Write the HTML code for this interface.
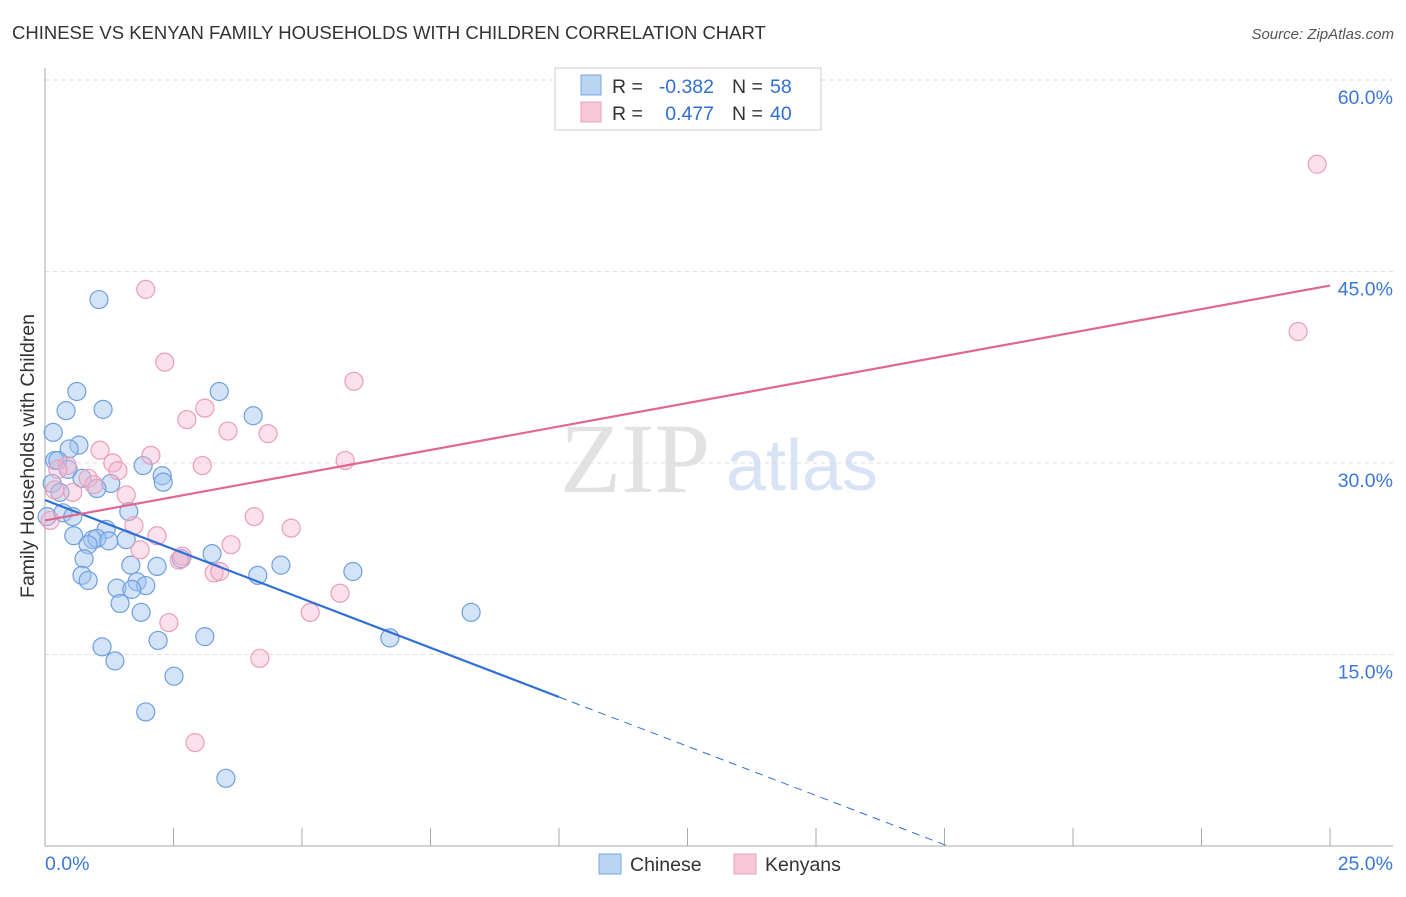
<!DOCTYPE html>
<html><head><meta charset="utf-8"><style>
body{margin:0;background:#fff;font-family:"Liberation Sans",sans-serif}
svg text{font-family:"Liberation Sans",sans-serif}
</style></head><body>
<svg width="1406" height="892" xmlns="http://www.w3.org/2000/svg">
<text x="12" y="39" font-size="18.5" fill="#333">CHINESE VS KENYAN FAMILY HOUSEHOLDS WITH CHILDREN CORRELATION CHART</text>
<text x="1394" y="39" font-size="15" fill="#555" text-anchor="end" font-style="italic">Source: ZipAtlas.com</text>
<text x="635" y="492" font-size="100" fill="#e2e2e2" style="font-family:'Liberation Serif',serif" text-anchor="middle">ZIP</text>
<text x="802" y="490" font-size="72" fill="#d8e4f5" text-anchor="middle">atlas</text>
<g id="grid"></g>
<g id="axes"></g>
<g id="marks"></g>
<text transform="translate(34,456) rotate(-90)" font-size="19.5" fill="#333" text-anchor="middle">Family Households with Children</text>
<g>
<rect x="555" y="68" width="266" height="62" fill="#fff" stroke="#ccc"/>
<rect x="581" y="75" width="20" height="20" fill="#bcd4f4" stroke="#7aa6e2"/>
<rect x="581" y="102" width="20" height="20" fill="#f9c8d8" stroke="#eca0ba"/>
<text x="612" y="93" font-size="19.5" fill="#333">R =</text>
<text x="714" y="93" font-size="19.5" fill="#2f6fd6" text-anchor="end">-0.382</text>
<text x="732" y="93" font-size="19.5" fill="#333">N =</text>
<text x="770" y="93" font-size="19.5" fill="#2f6fd6">58</text>
<text x="612" y="120" font-size="19.5" fill="#333">R =</text>
<text x="714" y="120" font-size="19.5" fill="#2f6fd6" text-anchor="end">0.477</text>
<text x="732" y="120" font-size="19.5" fill="#333">N =</text>
<text x="770" y="120" font-size="19.5" fill="#2f6fd6">40</text>
</g>
<g>
<rect x="599" y="854" width="22" height="20" fill="#bcd4f4" stroke="#7aa6e2"/>
<text x="630" y="871" font-size="19.5" fill="#333">Chinese</text>
<rect x="734" y="854" width="22" height="20" fill="#f9c8d8" stroke="#eca0ba"/>
<text x="765" y="871" font-size="19.5" fill="#333">Kenyans</text>
</g>
</svg>
<script>
const chineseX=[1.05,0.62,1.13,0.41,3.39,4.05,0.16,0.66,0.47,0.19,0.25,1.91,2.28,2.30,0.45,0.72,1.28,1.01,0.14,0.29,0.04,0.35,0.54,1.63,0.56,1.19,0.93,1.01,1.24,1.58,0.84,0.76,3.25,2.65,4.59,1.67,2.18,5.99,0.72,0.84,4.14,1.79,1.96,1.40,1.69,1.46,1.87,8.29,6.71,2.20,3.11,1.11,1.36,2.51,1.96,3.52];
const chineseY=[42.8,35.6,34.2,34.1,35.6,33.7,32.4,31.4,31.1,30.2,30.2,29.8,29.0,28.5,29.5,28.8,28.4,28.0,28.4,27.7,25.8,26.1,25.8,26.2,24.3,24.8,24.0,24.1,23.9,24.0,23.6,22.5,22.9,22.5,22.0,22.0,21.9,21.5,21.2,20.8,21.2,20.7,20.4,20.2,20.1,19.0,18.3,18.3,16.3,16.1,16.4,15.6,14.5,13.3,10.5,5.3];
const kenyanX=[24.75,24.38,1.96,2.33,6.01,3.11,2.76,3.56,4.34,2.06,1.07,3.06,5.84,1.32,1.42,0.43,0.84,0.95,0.54,0.19,1.58,4.07,1.73,4.79,2.18,3.62,1.85,2.67,3.29,3.40,5.74,5.16,2.41,4.18,2.92,0.10,0.25,2.61];
const kenyanY=[53.4,40.3,43.6,37.9,36.4,34.3,33.4,32.5,32.3,30.6,31.0,29.8,30.2,30.0,29.4,29.8,28.8,28.3,27.7,27.9,27.5,25.8,25.1,24.9,24.3,23.6,23.2,22.7,21.4,21.5,19.8,18.3,17.5,14.7,8.1,25.5,29.5,22.4];
const chineseTrend=[27.1,-1.543]; // intercept, slope
const kenyanTrend=[25.5,0.736];
const yTicks=[15,30,45,60];
const yTickLabels=["15.0%","30.0%","45.0%","60.0%"];
const xTicks=[0,2.5,5,7.5,10,12.5,15,17.5,20,22.5,25];
const NS="http://www.w3.org/2000/svg";
const sx=v=>45+v*(1285/25);
const sy=v=>846-v*(766/60);
function mk(t,a,p){const e=document.createElementNS(NS,t);for(const k in a)e.setAttribute(k,a[k]);p.appendChild(e);return e;}
const grid=document.getElementById('grid'),axes=document.getElementById('axes'),marks=document.getElementById('marks');
yTicks.forEach((v,i)=>{
 const l=mk('line',{x1:45,x2:1393,y1:sy(v),y2:sy(v),stroke:'#ddd','stroke-dasharray':'4,4'},grid);
 
 
 const t=mk('text',{x:1393,y:sy(v)+24,'font-size':19.5,fill:'#3b78d8','text-anchor':'end'},axes);
 t.textContent=yTickLabels[i];
 
 
});
mk('line',{x1:45,x2:45,y1:68,y2:846,stroke:'#aaa'},axes);
mk('line',{x1:45,x2:1393,y1:846,y2:846,stroke:'#aaa'},axes);
xTicks.forEach(v=>{
 const l=mk('line',{x1:sx(v),x2:sx(v),y1:828,y2:846,stroke:'#aaa'},axes);
 
 
});
let t0=mk('text',{x:45,y:870,'font-size':19.5,fill:'#3b78d8'},axes);t0.textContent='0.0%';


let t1=mk('text',{x:1393,y:870,'font-size':19.5,fill:'#3b78d8','text-anchor':'end'},axes);t1.textContent='25.0%';


chineseX.forEach((x,i)=>{
 const c=mk('circle',{cx:sx(x),cy:sy(chineseY[i]),r:9,fill:'rgba(160,196,240,0.45)',stroke:'#6f9fe0','stroke-width':1.2},marks);
 
 
});
kenyanX.forEach((x,i)=>{
 const c=mk('circle',{cx:sx(x),cy:sy(kenyanY[i]),r:9,fill:'rgba(246,180,204,0.4)',stroke:'#eb9db9','stroke-width':1.2},marks);
 
 
});
const cy=x=>chineseTrend[0]+chineseTrend[1]*x;
const xEnd=-chineseTrend[0]/chineseTrend[1];
let l1=mk('line',{x1:sx(0),y1:sy(cy(0)),x2:sx(10),y2:sy(cy(10)),stroke:'#2f6fd6','stroke-width':2.2},marks);


let l2=mk('line',{x1:sx(10),y1:sy(cy(10)),x2:sx(xEnd),y2:sy(0),stroke:'#2f6fd6','stroke-width':1,'stroke-dasharray':'8,6'},marks);


const ky=x=>kenyanTrend[0]+kenyanTrend[1]*x;
let l3=mk('line',{x1:sx(0),y1:sy(ky(0)),x2:sx(25),y2:sy(ky(25)),stroke:'#e2678f','stroke-width':2.2},marks);


</script>
</body></html>
